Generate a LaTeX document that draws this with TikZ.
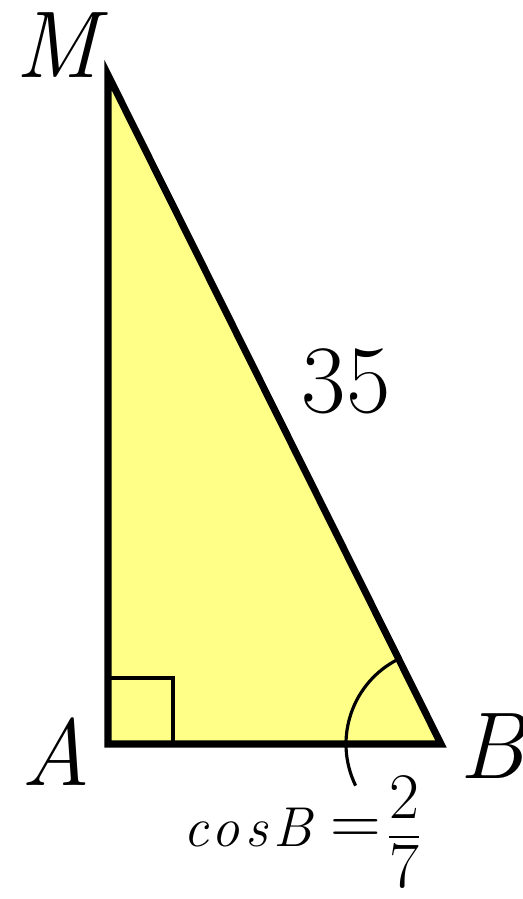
\documentclass[tikz,border=0pt]{standalone}
\usepackage{amsmath}
\usepackage{fontspec}
\newfontfamily\spacedit{Latin Modern Roman}[LetterSpace=10]
\definecolor{triyellow}{RGB}{255,255,136}

\begin{document}
\begin{tikzpicture}[
  x=0.02cm,
  y=0.02cm,
  side/.style={
    line width=4pt,
    line join=miter
  },
  rightangle/.style={
    line width=2.3pt
  },
  anglearc/.style={
    line width=1.8pt
  },
  vertexlabel/.style={
    inner sep=0pt,
    font=\fontsize{54}{60}\selectfont\itshape
  },
  lengthlabel/.style={
    inner sep=0pt,
    font=\fontsize{55}{60}\selectfont
  },
  caption/.style={
    inner sep=0pt,
    font=\fontsize{37}{42}\selectfont
  }
]

\path[use as bounding box] (0,0) rectangle (522,899);
\coordinate (M) at (108,824);
\coordinate (A) at (108,155);
\coordinate (B) at (441,155);

\fill[triyellow] (M) -- (A) -- (B) -- cycle;
\draw[rightangle] (A) ++(0,66) -| ++(65,-66);
\draw[anglearc] (B) ++(116.5:95) arc[start angle=116.5, end angle=206, radius=95];
\draw[side] (M) -- (A) -- (B) -- cycle;

\node[vertexlabel] (labM) at (57,854) {M};
\node[vertexlabel] (labA) at (56,147) {A};
\node[vertexlabel] (labB) at (492,153) {B};
\node[lengthlabel] (hyp) at (346,518) {35};
\node[caption, anchor=base west] (cosB) at (183,52)
  {\fontsize{32}{36}\selectfont\spacedit\itshape cosB};
\node[caption, font=\fontsize{40}{46}\selectfont] (eq) at (356,67) {=};
\node[caption] (frac) at (404,67) {$\dfrac{\text{2}}{\text{7}}$};

\end{tikzpicture}
\end{document}
